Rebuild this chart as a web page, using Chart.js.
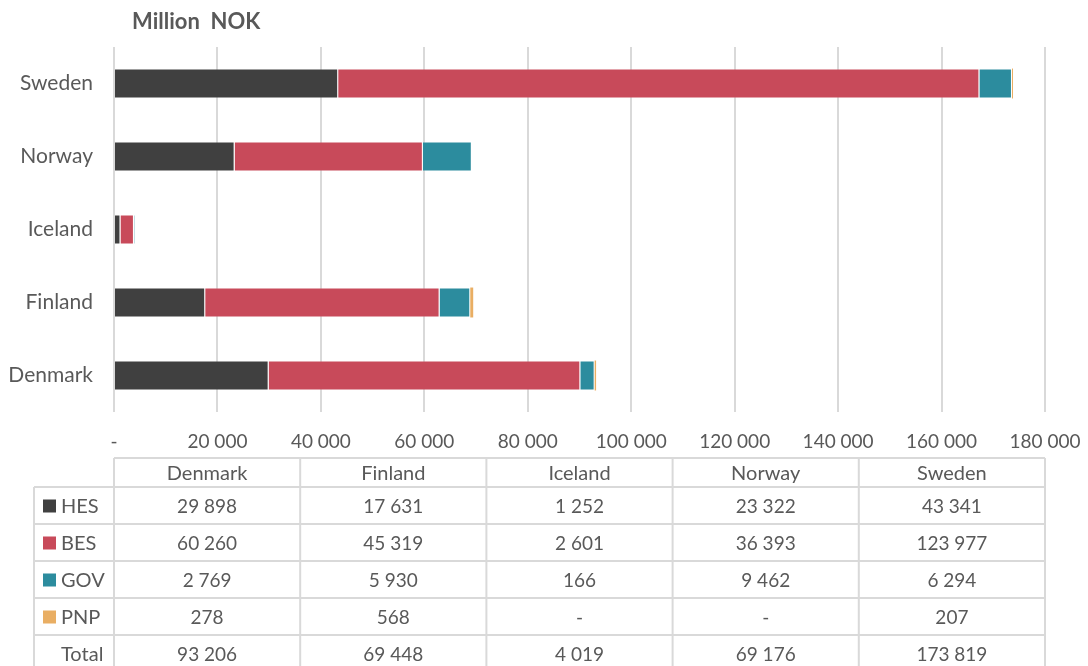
<!DOCTYPE html>
<html>
<head>
<meta charset="utf-8">
<script src="https://cdn.jsdelivr.net/npm/chart.js@4"></script>
<style>
    html, body { margin: 0; padding: 0; background: #fff; }
    #wrap { width: 1088px; height: 666px; position: relative; }
</style>
</head>
<body>
<div id="wrap"><canvas id="rdChart" width="1088" height="666"></canvas></div>
<script>
// categories (table order; axis shows them reversed)
const countries = ['Denmark', 'Finland', 'Iceland', 'Norway', 'Sweden'];
const hes = [29898, 17631, 1252, 23322, 43341];
const bes = [60260, 45319, 2601, 36393, 123977];
const gov = [2769, 5930, 166, 9462, 6294];
const pnp = [278, 568, 0, 0, 207];
const totals = [93206, 69448, 4019, 69176, 173819];
const xTicks = [0, 20000, 40000, 60000, 80000, 100000, 120000, 140000, 160000, 180000];

const seriesNames = ['HES', 'BES', 'GOV', 'PNP'];
const seriesColors = ['#404040', '#C84A5A', '#2C8C9E', '#E9AE63'];
const seriesData = [hes, bes, gov, pnp];

const textColor = '#595959';
const lineColor = '#D9D9D9';
const fontFamily = 'Lato, "Open Sans", sans-serif';

function fmt(v) {
    if (!v) return '-';
    return String(v).replace(/\B(?=(\d{3})+(?!\d))/g, ' ');
}

// title + data table under the axis
const tablePlugin = {
    id: 'dataTable',
    afterDraw(chart) {
        const ctx = chart.ctx;
        const area = chart.chartArea;
        const top = chart.scales.x.bottom;
        const headH = 29, rowH = 37;
        const legendLeft = 34;
        const colW = (area.right - area.left) / countries.length;

        ctx.save();
        // title
        ctx.fillStyle = textColor;
        ctx.font = 'bold 22px ' + fontFamily;
        ctx.textAlign = 'left';
        ctx.textBaseline = 'middle';
        ctx.fillText('Million  NOK', 132, 22);

        ctx.strokeStyle = lineColor;
        ctx.lineWidth = 2;
        ctx.beginPath();
        // header top line
        ctx.moveTo(area.left, top); ctx.lineTo(area.right, top);
        const nRows = seriesNames.length + 1;
        for (let r = 0; r <= nRows; r++) {
            const y = top + headH + r * rowH;
            ctx.moveTo(legendLeft, y); ctx.lineTo(area.right, y);
        }
        const bottom = top + headH + nRows * rowH;
        ctx.moveTo(legendLeft, top + headH); ctx.lineTo(legendLeft, bottom);
        for (let c = 0; c <= countries.length; c++) {
            const x = area.left + c * colW;
            ctx.moveTo(x, top); ctx.lineTo(x, bottom);
        }
        ctx.stroke();

        ctx.font = '20px ' + fontFamily;
        ctx.fillStyle = textColor;
        ctx.textAlign = 'center';
        countries.forEach((name, c) => {
            ctx.fillText(name, area.left + (c + 0.5) * colW, top + headH / 2 + 1);
        });

        const rows = seriesData.concat([totals]);
        rows.forEach((vals, r) => {
            const yc = top + headH + r * rowH + rowH / 2 + 1;
            ctx.font = '20px ' + fontFamily;
            ctx.textAlign = 'left';
            if (r < seriesNames.length) {
                ctx.fillStyle = seriesColors[r];
                ctx.fillRect(43, yc - 7, 13, 13);
                ctx.fillStyle = textColor;
                ctx.fillText(seriesNames[r], 61, yc);
            } else {
                ctx.fillStyle = textColor;
                ctx.fillText('Total', 61, yc);
            }
            ctx.font = '19px ' + fontFamily;
            ctx.textAlign = 'center';
            vals.forEach((v, c) => {
                ctx.fillText(fmt(v), area.left + (c + 0.5) * colW, yc);
            });
        });
        ctx.restore();
    }
};

const ctx = document.getElementById('rdChart').getContext('2d');
new Chart(ctx, {
    type: 'bar',
    data: {
        labels: countries,
        datasets: seriesNames.map((name, i) => ({
            label: name,
            data: seriesData[i],
            backgroundColor: seriesColors[i],
            borderColor: 'rgba(255,255,255,0.25)',
            borderWidth: name === 'PNP' ? 0 : 1,
            categoryPercentage: 0.41,
            barPercentage: 1
        }))
    },
    options: {
        indexAxis: 'y',
        responsive: false,
        animation: false,
        layout: { padding: { top: 47, right: 43, bottom: 208, left: 0 } },
        plugins: {
            legend: { display: false },
            tooltip: { enabled: false }
        },
        scales: {
            x: {
                stacked: true,
                min: 0,
                max: 180000,
                afterBuildTicks(scale) { scale.ticks = xTicks.map(v => ({ value: v })); },
                afterFit(scale) {
                    scale.height = 46;
                    scale.paddingLeft = 0;
                    scale.paddingRight = 0;
                },
                border: { display: false },
                grid: { color: lineColor, lineWidth: 2, drawTicks: false },
                ticks: {
                    color: textColor,
                    font: { family: fontFamily, size: 19 },
                    padding: 18,
                    maxRotation: 0,
                    autoSkip: false,
                    callback: v => fmt(v)
                }
            },
            y: {
                stacked: true,
                reverse: true,
                afterFit(scale) { scale.width = 114; },
                border: { display: false },
                grid: { display: false, drawTicks: false },
                ticks: {
                    color: textColor,
                    font: { family: fontFamily, size: 21 },
                    padding: 21
                }
            }
        }
    },
    plugins: [tablePlugin]
});
</script>
</body>
</html>
